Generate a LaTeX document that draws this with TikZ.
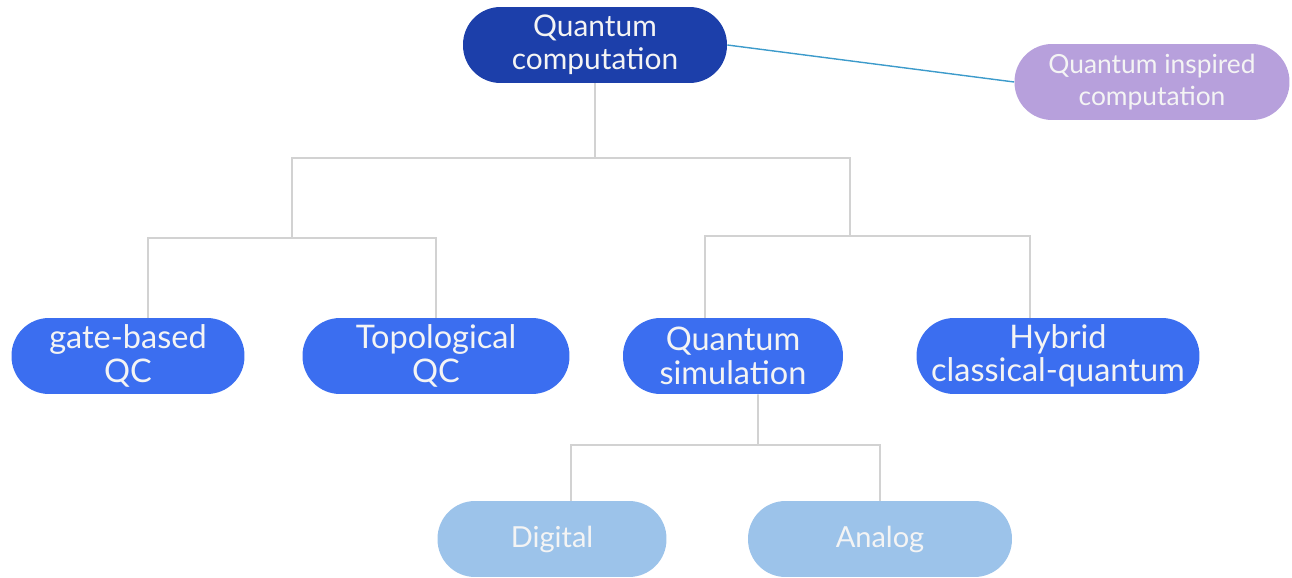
\documentclass[tikz,border=0pt]{standalone}
\usepackage{fontspec}
\setmainfont{Lato}
\definecolor{rootblue}{HTML}{1C3FAA}
\definecolor{branchblue}{HTML}{3B6EF0}
\definecolor{leafblue}{HTML}{9CC3EA}
\definecolor{inspiredlilac}{HTML}{B7A0DC}
\definecolor{linkgrey}{HTML}{D2D2D2}
\definecolor{linkteal}{HTML}{3D9BCB}
\definecolor{pilltext}{HTML}{F4F4F4}

\begin{document}
\begin{tikzpicture}[
  x=0.02cm,
  y=-0.02cm,
  pill/.style={rounded corners=0.75cm, minimum height=1.52cm, inner sep=0pt,
    align=center, text=pilltext},
  rootpill/.style={pill, fill=rootblue, font=\fontsize{17}{19}\selectfont},
  branchpill/.style={pill, fill=branchblue, font=\fontsize{18.5}{19}\selectfont},
  leafpill/.style={pill, fill=leafblue, font=\fontsize{16.5}{19}\selectfont},
  sidepill/.style={pill, fill=inspiredlilac, font=\fontsize{15}{18}\selectfont},
  link/.style={linkgrey, line width=0.9pt},
  sidelink/.style={linkteal, line width=0.8pt}
]
  \useasboundingbox (0,0) rectangle (1292,578);

  % top level
  \node[rootpill, minimum width=5.28cm] (root) at (595,45) {Quantum\\computation};
  \node[sidepill, minimum width=5.5cm] (inspired) at (1152,82) {Quantum inspired\\computation};

  % second level
  \node[branchpill, minimum width=4.66cm] (gate) at (128,356) {gate-based\\QC};
  \node[branchpill, minimum width=5.34cm] (topo) at (436,356) {Topological\\QC};
  \node[branchpill, minimum width=4.4cm] (sim) at (733,356) {Quantum\\simulation};
  \node[branchpill, minimum width=5.66cm] (hybrid) at (1058,356) {Hybrid\\classical-quantum};

  % simulation leaves
  \node[leafpill, minimum width=4.58cm] (digital) at (552,539) {Digital};
  \node[leafpill, minimum width=5.28cm] (analog) at (880,539) {Analog};

  % junctions
  \coordinate (jtop) at (595,158);
  \coordinate (jleft) at (292,238);
  \coordinate (jright) at (850,236);
  \coordinate (jsim) at (758,445);

  % connectors
  \draw[sidelink] (root.east) -- (inspired.west);
  \draw[link] (root.south) -- (jtop);
  \draw[link] (jleft) |- (jtop) -| (jright);
  \draw[link] ([xshift=0.4cm]gate.north) |- (jleft) -| (topo.north);
  \draw[link] ([xshift=-0.56cm]sim.north) |- (jright) -| ([xshift=-0.56cm]hybrid.north);
  \draw[link] ([xshift=0.5cm]sim.south) -- (jsim);
  \draw[link] ([xshift=0.38cm]digital.north) |- (jsim) -| (analog.north);
\end{tikzpicture}
\end{document}
